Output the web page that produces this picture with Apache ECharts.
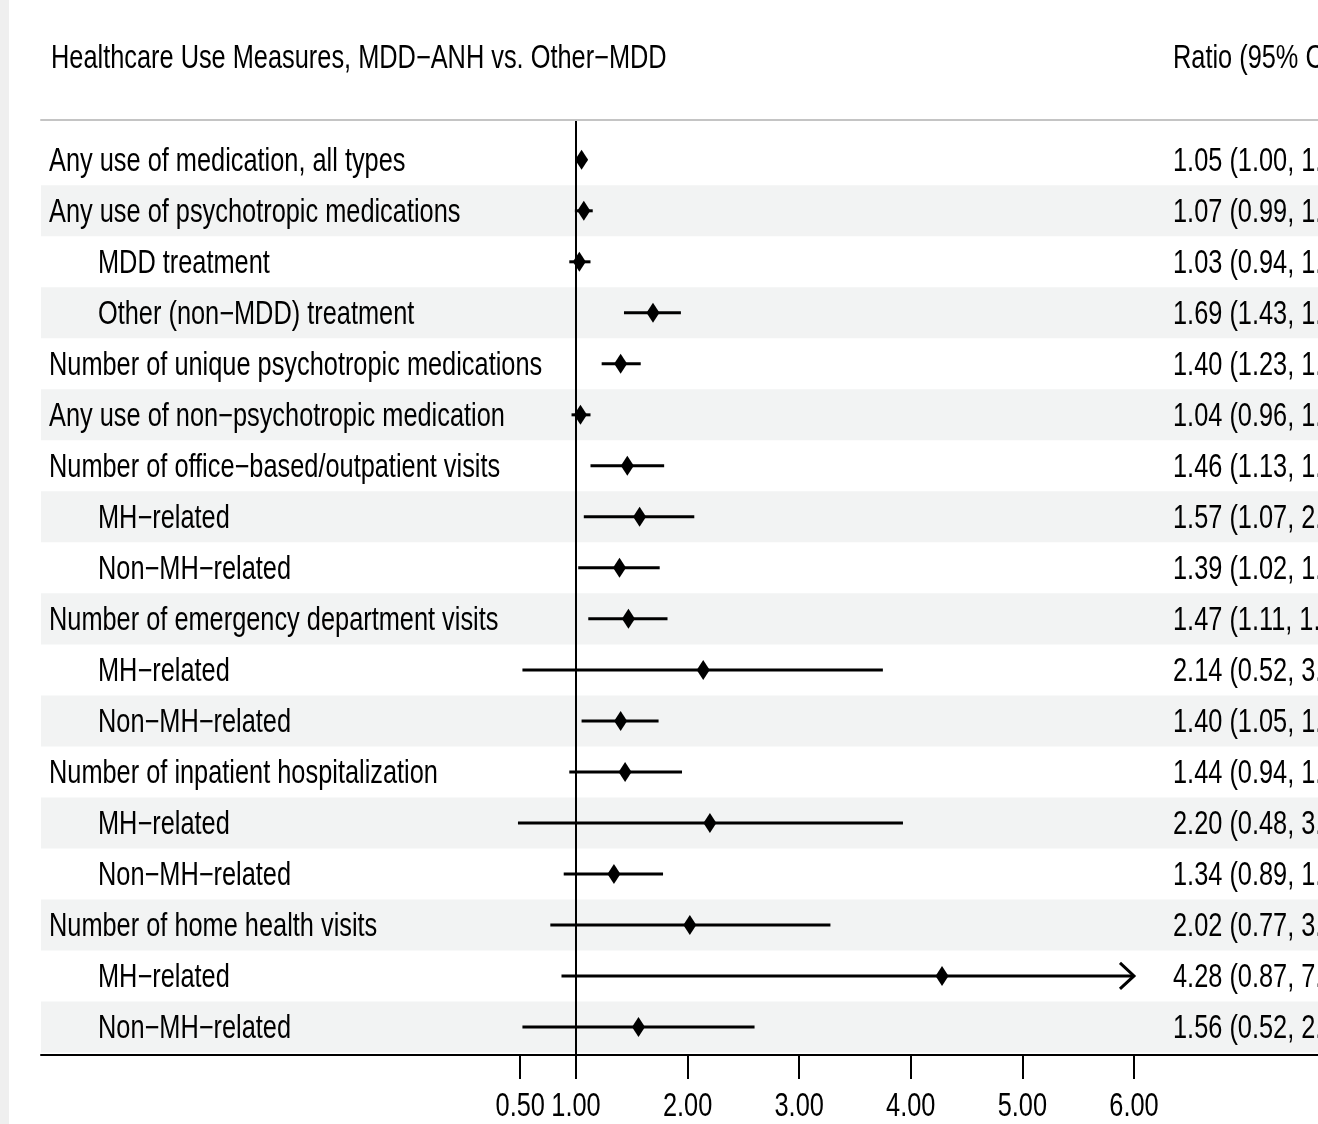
<!DOCTYPE html>
<html>
<head>
<meta charset="utf-8">
<script src="https://cdn.jsdelivr.net/npm/echarts@6/dist/echarts.min.js"></script>
<style>
  html, body { margin: 0; padding: 0; background: #fff; }
  #chart { width: 1318px; height: 1124px; }
</style>
</head>
<body>
<div id="chart"></div>
<script>
// row labels, top to bottom
const rowLabels = [
  'Any use of medication, all types',
  'Any use of psychotropic medications',
  'MDD treatment',
  'Other (non−MDD) treatment',
  'Number of unique psychotropic medications',
  'Any use of non−psychotropic medication',
  'Number of office−based/outpatient visits',
  'MH−related',
  'Non−MH−related',
  'Number of emergency department visits',
  'MH−related',
  'Non−MH−related',
  'Number of inpatient hospitalization',
  'MH−related',
  'Non−MH−related',
  'Number of home health visits',
  'MH−related',
  'Non−MH−related'
]
const indentLevel = [0, 0, 1, 1, 0, 0, 0, 1, 1, 0, 1, 1, 0, 1, 1, 0, 1, 1]

const estimates = [1.05, 1.07, 1.03, 1.69, 1.40, 1.04, 1.46, 1.57, 1.39, 1.47, 2.14, 1.40, 1.44, 2.20, 1.34, 2.02, 4.28, 1.56]
const lowerCI   = [1.00, 0.99, 0.94, 1.43, 1.23, 0.96, 1.13, 1.07, 1.02, 1.11, 0.52, 1.05, 0.94, 0.48, 0.89, 0.77, 0.87, 0.52]
const upperCI   = [1.10, 1.15, 1.13, 1.94, 1.58, 1.13, 1.79, 2.06, 1.75, 1.82, 3.75, 1.74, 1.95, 3.93, 1.78, 3.28, 7.69, 2.60]

const tickValues = [0.5, 1, 2, 3, 4, 5, 6]
const arrowCap = 6.0

// the original uses a condensed face, so Arial-metric text is squeezed
const FONT = "'Liberation Sans', Arial, sans-serif"
const FS = 32.5
const SQUEEZE = 0.78
const TEXT_DY = 2

const rows = rowLabels.map((_, i) => i + 1)
const ratioText = rows.map((r, i) =>
  `${estimates[i].toFixed(2)} (${lowerCI[i].toFixed(2)}, ${upperCI[i].toFixed(2)})`)

const chart = echarts.init(document.getElementById('chart'))

const xRange = { min: -3.794, max: 7.649 }
const yRange = { min: 0.22, max: 18.55, inverse: true }

function squeezedText(x, y, text, align) {
  return {
    type: 'text', x, y: y + TEXT_DY, scaleX: SQUEEZE,
    style: { text, fill: '#000', fontFamily: FONT, fontSize: FS, align: align || 'left', verticalAlign: 'middle' }
  }
}

chart.setOption({
  animation: false,
  backgroundColor: '#fff',
  graphic: [
    { type: 'rect', left: 0, top: 0, shape: { width: 9, height: 1124 }, style: { fill: '#efefef' }, z: 0 },
    { ...squeezedText(51, 57, 'Healthcare Use Measures, MDD−ANH vs. Other−MDD'), z: 5 },
    { ...squeezedText(1173, 57, 'Ratio (95% CI)'), z: 5 }
  ],
  grid: { left: 41, right: 0, top: 120, bottom: 69, outerBoundsMode: 'none', containLabel: false },
  xAxis: [
    {
      type: 'value', position: 'bottom', ...xRange, z: 5,
      splitLine: { show: false },
      axisLine: { lineStyle: { color: '#000', width: 2 } },
      axisTick: { customValues: tickValues, length: 24, lineStyle: { color: '#000', width: 2 } },
      axisLabel: { show: false }
    },
    {
      type: 'value', position: 'top', ...xRange, z: 5,
      splitLine: { show: false },
      axisLine: { lineStyle: { color: '#c4c4c4', width: 2 } },
      axisTick: { show: false },
      axisLabel: { show: false }
    }
  ],
  yAxis: {
    type: 'value', ...yRange, show: false
  },
  series: [
    {
      // alternating row shading
      type: 'custom', name: 'bands', z: 1, silent: true,
      data: rows.filter(r => r % 2 === 0).map(r => [0, r]),
      encode: { x: 0, y: 1 },
      renderItem: (params, api) => {
        const r = api.value(1)
        const cs = params.coordSys
        const y0 = api.coord([0, r - 0.5])[1]
        const y1 = api.coord([0, r + 0.5])[1]
        return {
          type: 'rect',
          shape: { x: cs.x, y: y0, width: cs.width, height: y1 - y0 },
          style: { fill: '#f2f3f3' }
        }
      }
    },
    {
      // row labels on the left and ratio text on the right
      type: 'custom', name: 'text', z: 4, silent: true, clip: false,
      data: rows.map(r => [0, r]),
      encode: { x: 0, y: 1 },
      renderItem: (params, api) => {
        const i = params.dataIndex
        const cs = params.coordSys
        const y = api.coord([0, api.value(1)])[1]
        return {
          type: 'group',
          children: [
            squeezedText(cs.x + 8 + 49 * indentLevel[i], y, rowLabels[i]),
            squeezedText(cs.x + cs.width - 145, y, ratioText[i])
          ]
        }
      }
    },
    {
      // x-axis tick labels
      type: 'custom', name: 'ticks', z: 4, silent: true, clip: false,
      data: tickValues.map(v => [v, yRange.max]),
      encode: { x: 0, y: 1 },
      renderItem: (params, api) => {
        const p = api.coord([api.value(0), api.value(1)])
        return squeezedText(p[0], p[1] + 50, api.value(0).toFixed(2), 'center')
      }
    },
    {
      type: 'custom', name: 'ratio', z: 3, silent: true,
      data: rows.map((r, i) => [r, estimates[i], lowerCI[i], upperCI[i]]),
      encode: { x: [1, 2, 3], y: 0 },
      renderItem: (params, api) => {
        const r = api.value(0)
        const hi = api.value(3)
        const clipped = hi > arrowCap
        const p = api.coord([api.value(1), r])
        const a = api.coord([api.value(2), r])
        const b = api.coord([clipped ? arrowCap : hi, r])
        const children = [
          { type: 'line', shape: { x1: a[0], y1: a[1], x2: b[0], y2: b[1] },
            style: { stroke: '#000', lineWidth: 3 } }
        ]
        if (clipped) {
          children.push({
            type: 'polyline',
            shape: { points: [[b[0] - 14, b[1] - 13], [b[0], b[1]], [b[0] - 14, b[1] + 13]] },
            style: { stroke: '#000', lineWidth: 3, fill: null }
          })
        }
        children.push({
          type: 'polygon',
          shape: { points: [[p[0], p[1] - 10], [p[0] + 6.5, p[1]], [p[0], p[1] + 10], [p[0] - 6.5, p[1]]] },
          style: { fill: '#000' }
        })
        return { type: 'group', children }
      },
      markLine: {
        silent: true, symbol: 'none', label: { show: false },
        lineStyle: { color: '#000', width: 2, type: 'solid' },
        data: [{ xAxis: 1 }]
      }
    }
  ]
})
</script>
</body>
</html>
